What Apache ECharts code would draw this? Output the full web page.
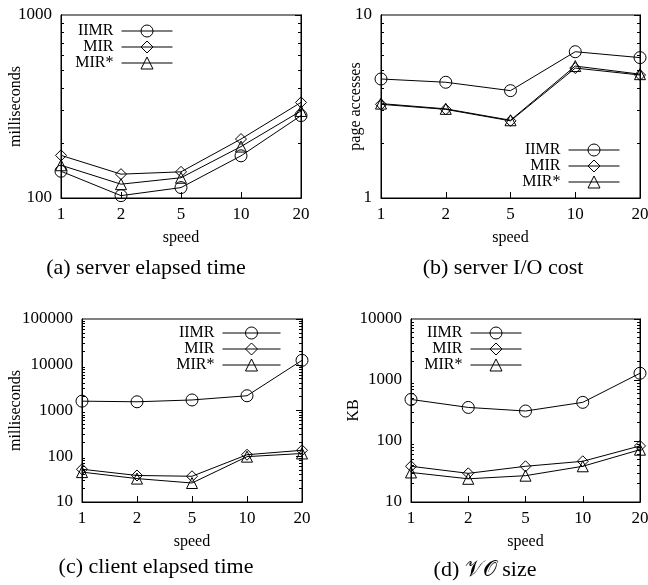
<!DOCTYPE html>
<html>
<head>
<meta charset="utf-8">
<script src="https://cdn.jsdelivr.net/npm/echarts@6/dist/echarts.min.js"></script>
<style>
  html, body { margin: 0; padding: 0; background: #fff; }
  #main { width: 648px; height: 585px; }
</style>
</head>
<body>
<div id="main"></div>
<script>
// x categories shared by all four panels
var speeds = ['1', '2', '5', '10', '20'];
var seriesNames = ['IIMR', 'MIR', 'MIR*'];

// (a) server elapsed time, milliseconds
var serverTimeIIMR = [140, 103, 114, 170, 282];
var serverTimeMIR = [171, 135, 139, 210, 333];
var serverTimeMIRs = [151, 119, 129, 191, 299];
// (b) server I/O cost, page accesses
var serverIoIIMR = [4.47, 4.29, 3.86, 6.3, 5.85];
var serverIoMIR = [3.25, 3.05, 2.64, 5.13, 4.7];
var serverIoMIRs = [3.28, 3.07, 2.66, 5.26, 4.75];
// (c) client elapsed time, milliseconds
var clientTimeIIMR = [1600, 1550, 1700, 2100, 12500];
var clientTimeMIR = [52, 38, 36.5, 108, 135];
var clientTimeMIRs = [45, 32.5, 26, 98, 115];
// (d) VO size, KB
var voSizeIIMR = [480, 355, 310, 430, 1290];
var voSizeMIR = [38.5, 29.5, 38.5, 46.5, 83];
var voSizeMIRs = [30.5, 24, 27, 38.5, 72];

// y axis ranges (log scale)
var rangeA = [100, 1000];
var rangeB = [1, 10];
var rangeC = [10, 100000];
var rangeD = [10, 10000];

var symbols = ['circle', 'diamond', 'triangle'];
var FONT = '"Liberation Serif", "DejaVu Serif", serif';

var panels = [
  {grid: {left: 61, top: 15, width: 240, height: 183}, range: rangeA, yName: 'milliseconds', yGap: 37,
   values: [serverTimeIIMR, serverTimeMIR, serverTimeMIRs],
   legend: {right: 475, top: 23, itemWidth: 51}, caption: '(a) server elapsed time', cap: [146, 268]},
  {grid: {left: 381, top: 15, width: 259, height: 183}, range: rangeB, yName: 'page accesses', yGap: 17,
   values: [serverIoIIMR, serverIoMIR, serverIoMIRs],
   legend: {right: 28, top: 142, itemWidth: 51}, caption: '(b) server I/O cost', cap: [503, 268]},
  {grid: {left: 82, top: 319, width: 220, height: 183}, range: rangeC, yName: 'milliseconds', yGap: 58,
   values: [clientTimeIIMR, clientTimeMIR, clientTimeMIRs],
   legend: {right: 367, top: 325, itemWidth: 58}, caption: '(c) client elapsed time', cap: [156, 567]},
  {grid: {left: 411, top: 319, width: 229, height: 183}, range: rangeD, yName: 'KB', yGap: 49,
   values: [voSizeIIMR, voSizeMIR, voSizeMIRs],
   legend: {right: 126, top: 325, itemWidth: 51}, caption: '(d) \uD835\uDCB1\uD835\uDCAA size', cap: [485, 570]}
];

function log10(v) { return Math.log(v) / Math.LN10; }

// gnuplot style log ticks: long at decades, short at 2..9
function decadeTicks(range) {
  var major = [], minor = [];
  for (var d = range[0]; d <= range[1]; d *= 10) {
    major.push(log10(d));
    if (d < range[1]) {
      for (var k = 2; k <= 9; k++) minor.push(log10(d * k));
    }
  }
  return {major: major, minor: minor};
}

// tick-only axis laid over the log axis (works in log10 space)
function tickAxis(i, range, pos, values, len) {
  return {
    type: 'value', gridIndex: i, position: pos,
    min: log10(range[0]), max: log10(range[1]),
    axisLine: {show: true, lineStyle: {color: '#000', width: 1}},
    axisLabel: {show: false, customValues: values},
    splitLine: {show: false},
    axisTick: {show: true, inside: true, length: len, customValues: values,
      lineStyle: {color: '#000', width: 1}}
  };
}

var grid = [], xAxis = [], yAxis = [], series = [], legend = [], graphic = [];

panels.forEach(function (p, i) {
  grid.push(Object.assign({show: true, borderColor: '#000', borderWidth: 1,
    backgroundColor: 'transparent', containLabel: false, outerBoundsMode: 'none'}, p.grid));

  xAxis.push({
    type: 'category', gridIndex: i, data: speeds, boundaryGap: false,
    axisLine: {lineStyle: {color: '#000', width: 1}},
    axisTick: {inside: true, length: 6, lineStyle: {color: '#000'}},
    axisLabel: {color: '#000', fontSize: 17, fontFamily: FONT, margin: 8},
    splitLine: {show: false},
    name: 'speed', nameLocation: 'middle', nameGap: 32, nameMoveOverlap: false,
    nameTextStyle: {color: '#000', fontSize: 16, fontFamily: FONT}
  });

  var t = decadeTicks(p.range);
  yAxis.push({
    type: 'log', logBase: 10, gridIndex: i, position: 'left',
    min: p.range[0], max: p.range[1],
    axisLine: {show: true, lineStyle: {color: '#000', width: 1}},
    axisTick: {inside: true, length: 6, lineStyle: {color: '#000'}},
    axisLabel: {color: '#000', fontSize: 17, fontFamily: FONT, margin: 9,
      formatter: function (v) { return String(Math.round(v)); }},
    splitLine: {show: false},
    name: p.yName, nameLocation: 'middle', nameGap: p.yGap, nameRotate: 90, nameMoveOverlap: false,
    nameTextStyle: {color: '#000', fontSize: 16, fontFamily: FONT}
  });
  yAxis.push(tickAxis(i, p.range, 'left', t.minor, 3));
  yAxis.push(tickAxis(i, p.range, 'right', t.major, 6));
  yAxis.push(tickAxis(i, p.range, 'right', t.minor, 3));

  p.values.forEach(function (vals, s) {
    series.push({
      name: seriesNames[s], type: 'line', xAxisIndex: i, yAxisIndex: i * 4,
      data: vals, symbol: symbols[s], symbolSize: s === 0 ? 12 : 11,
      lineStyle: {color: '#000', width: 1},
      itemStyle: {color: 'rgba(255,255,255,0)', borderColor: '#000', borderWidth: 1},
      emphasis: {disabled: true},
      z: 3 - s
    });
  });

  legend.push({
    data: seriesNames, orient: 'vertical', align: 'right',
    right: p.legend.right, top: p.legend.top, padding: 0,
    itemWidth: p.legend.itemWidth, itemHeight: 15, itemGap: 0,
    itemStyle: {color: 'rgba(255,255,255,0)', borderColor: '#000', borderWidth: 1},
    lineStyle: {color: '#000', width: 1},
    textStyle: {color: '#000', fontSize: 16, fontFamily: FONT, padding: [0, 3, 0, 0]},
    selectedMode: false
  });

  graphic.push({
    type: 'text', x: p.cap[0], y: p.cap[1],
    style: {text: p.caption, fill: '#000', font: '22px ' + FONT,
      textAlign: 'center', textVerticalAlign: 'middle'}
  });
});

var chart = echarts.init(document.getElementById('main'), null, {renderer: 'canvas'});
chart.setOption({
  animation: false,
  backgroundColor: '#fff',
  grid: grid, xAxis: xAxis, yAxis: yAxis, series: series,
  legend: legend, graphic: graphic
});
</script>
</body>
</html>
